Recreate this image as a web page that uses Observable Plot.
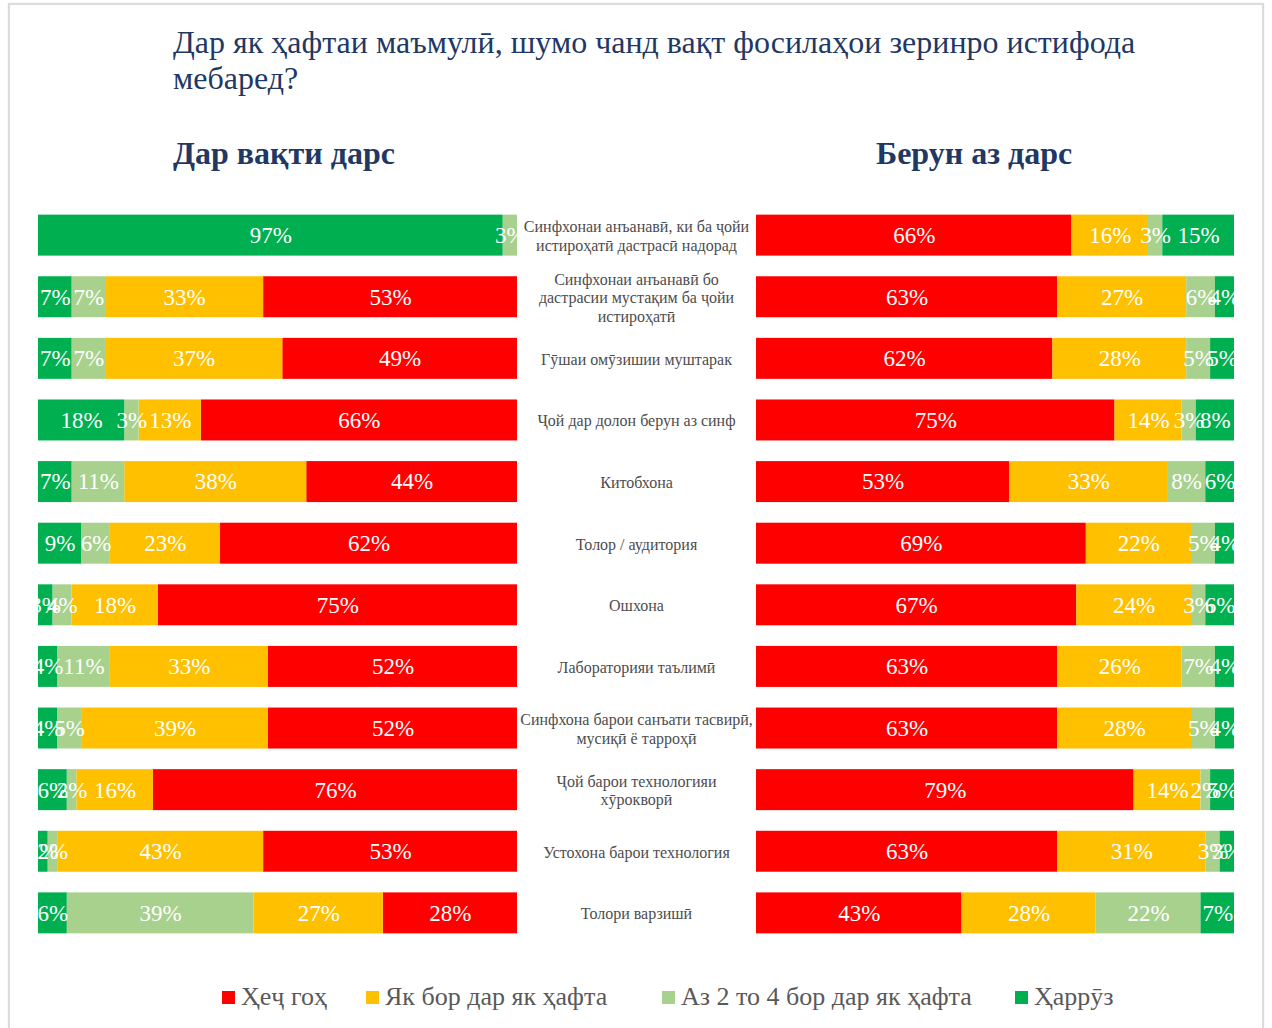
<!DOCTYPE html>
<html>
<head>
<meta charset="utf-8">
<script src="https://cdn.jsdelivr.net/npm/d3@7"></script>
<script src="https://cdn.jsdelivr.net/npm/@observablehq/plot@0.6"></script>
<style>
  html, body { margin: 0; padding: 0; background: #ffffff; }
  #page { position: relative; width: 1272px; height: 1028px; overflow: hidden; background: #fff; font-family: "Liberation Serif", serif; }
  #frame { position: absolute; left: 8px; top: 3px; width: 1252px; height: 1100px; border: 2px solid #dcdcdc; box-shadow: 0 0 2px #e8e8e8; }
  #title { position: absolute; left: 173px; top: 24px; font-size: 32px; line-height: 36px; color: #1F3864; white-space: nowrap; }
  .sub { position: absolute; top: 135px; font-size: 32px; font-weight: bold; color: #1F3864; white-space: nowrap; }
  #left { position: absolute; left: 0px; top: 194px; }
  #right { position: absolute; left: 746px; top: 194px; }
  .lg { position: absolute; top: 982px; font-size: 26px; color: #595959; white-space: nowrap; display: flex; align-items: center; }
  .sw { width: 13px; height: 13px; margin-right: 6px; display: inline-block; }
</style>
</head>
<body>
<div id="page">
  <div id="frame"></div>
  <div id="title">Дар як ҳафтаи маъмулӣ, шумо чанд вақт фосилаҳои зеринро истифода<br>мебаред?</div>
  <div class="sub" style="left:173px">Дар вақти дарс</div>
  <div class="sub" style="left:876px">Берун аз дарс</div>
  <div id="left"></div>
  <div id="right"></div>
  <div id="legend"></div>
</div>
<script>
const categories = [
  "Синфхонаи анъанавӣ, ки ба ҷойи\nистироҳатӣ дастрасӣ надорад",
  "Синфхонаи анъанавӣ бо\nдастрасии мустақим ба ҷойи\nистироҳатӣ",
  "Гӯшаи омӯзишии муштарак",
  "Ҷой дар долон берун аз синф",
  "Китобхона",
  "Толор / аудитория",
  "Ошхона",
  "Лабораторияи таълимӣ",
  "Синфхона барои санъати тасвирӣ,\nмусиқӣ ё тарроҳӣ",
  "Ҷой барои технологияи\nхӯрокворӣ",
  "Устохона барои технология",
  "Толори варзишӣ"
];
const seriesNames = ["Ҳеҷ гоҳ", "Як бор дар як ҳафта", "Аз 2 то 4 бор дар як ҳафта", "Ҳаррӯз"];
const seriesColors = ["#FF0000", "#FFC000", "#A9D18E", "#00B050"];

// During lessons
const duringNever = [0, 53, 49, 66, 44, 62, 75, 52, 52, 76, 53, 28];
const duringOnce  = [0, 33, 37, 13, 38, 23, 18, 33, 39, 16, 43, 27];
const duringFew   = [3, 7, 7, 3, 11, 6, 4, 11, 5, 2, 2, 39];
const duringDaily = [97, 7, 7, 18, 7, 9, 3, 4, 4, 6, 2, 6];

// Outside lessons
const outsideNever = [66, 63, 62, 75, 53, 69, 67, 63, 63, 79, 63, 43];
const outsideOnce  = [16, 27, 28, 14, 33, 22, 24, 26, 28, 14, 31, 28];
const outsideFew   = [3, 6, 5, 3, 8, 5, 3, 7, 5, 2, 3, 22];
const outsideDaily = [15, 4, 5, 8, 6, 4, 6, 4, 4, 5, 3, 7];

const legendLeft = [222, 366, 662, 1015];

function toRows(cols) {
  return categories.flatMap((c, i) => seriesNames.map((s, j) => ({category: c, series: s, value: cols[j][i]})));
}

const duringData = toRows([duringNever, duringOnce, duringFew, duringDaily]);
const outsideData = toRows([outsideNever, outsideOnce, outsideFew, outsideDaily]);

function panel(data, order, opts) {
  const marks = [
    Plot.barX(data, Plot.stackX({x: "value", y: "category", fill: "series", order})),
    Plot.text(data.filter(d => d.value > 0), Plot.stackX({
      x: "value", y: "category", z: "series", order,
      text: d => d.value + "%", fill: "white", fontSize: 23, clip: true
    }))
  ];
  if (opts.labels) {
    marks.push(Plot.axisY({anchor: "right", tickSize: 0, textAnchor: "middle", dx: 110, fontSize: 16, lineHeight: 1.15, label: null, fill: "#4d4d4d"}));
  }
  return Plot.plot({
    width: opts.width, height: 760,
    marginLeft: opts.marginLeft, marginRight: opts.marginRight, marginTop: 0, marginBottom: 0,
    x: {domain: [0, 100], axis: null},
    y: {domain: categories, padding: 0.335, round: false, axis: null, label: null},
    color: {domain: seriesNames, range: seriesColors},
    style: {fontFamily: "Liberation Serif", color: "#4d4d4d", background: "transparent", overflow: "visible"},
    marks
  });
}

const leftOrder = seriesNames.slice().reverse();
document.getElementById("left").appendChild(panel(duringData, leftOrder, {width: 756, marginLeft: 38, marginRight: 239, labels: true}));
document.getElementById("right").appendChild(panel(outsideData, seriesNames, {width: 500, marginLeft: 10, marginRight: 12, labels: false}));

const legend = document.getElementById("legend");
seriesNames.forEach((s, i) => {
  const item = document.createElement("div");
  item.className = "lg";
  item.style.left = legendLeft[i] + "px";
  const sw = document.createElement("span");
  sw.className = "sw";
  sw.style.background = seriesColors[i];
  item.appendChild(sw);
  item.appendChild(document.createTextNode(s));
  legend.appendChild(item);
});
</script>
</body>
</html>
